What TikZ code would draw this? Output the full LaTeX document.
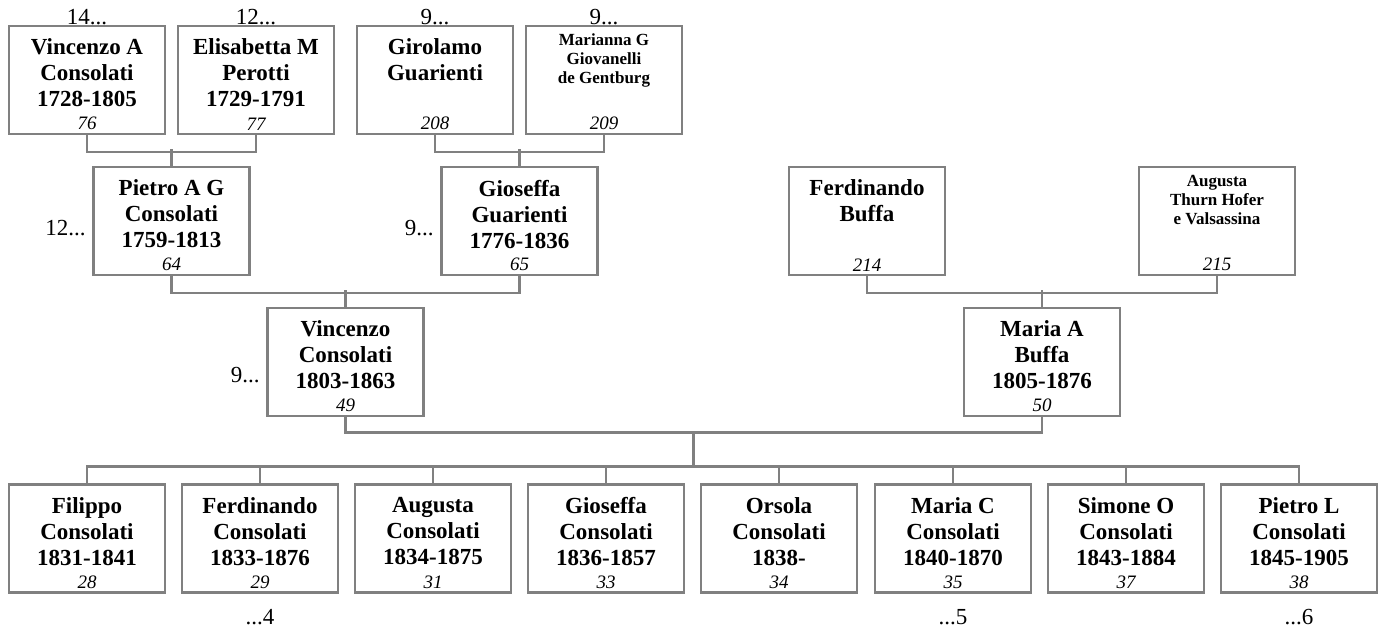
\documentclass[tikz,border=0pt]{standalone}
\usepackage{fontspec}
\setmainfont{Liberation Serif}
\usepackage{xcolor}
\definecolor{grigio}{RGB}{128,128,128}
\usepackage{tikz}
\usetikzlibrary{positioning}
\tikzstyle{riquadro} = [rectangle, draw=grigio, line width=1.4pt, minimum width=78pt, minimum height=54pt, inner sep=0pt]
\tikzstyle{nome} = [align=center, inner sep=0pt, font=\bfseries\fontsize{11.5}{13}\selectfont]
\tikzstyle{nomepiccolo} = [align=center, inner sep=0pt, font=\bfseries\fontsize{8.5}{9.5}\selectfont]
\tikzstyle{numero} = [inner sep=0pt, font=\itshape\fontsize{9.5}{11}\selectfont]
\tikzstyle{continua} = [inner sep=0pt, font=\fontsize{11.5}{13}\selectfont]
\tikzstyle{linea} = [draw=grigio, line width=1.4pt]

\begin{document}
\begin{tikzpicture}[x=0.5pt, y=-0.5pt]

    \useasboundingbox (0,0) rectangle (1383,628);

    % bisnonni
    \node (vincenzoA) [riquadro] at (87,80) {};
    \node (vincenzoAnome) [nome, below=7pt of vincenzoA.north] {Vincenzo A\\Consolati\\1728-1805};
    \node (vincenzoAnum) [numero, above=2.5pt of vincenzoA.south] {76};

    \node (elisabettaM) [riquadro] at (256,80) {};
    \node (elisabettaMnome) [nome, below=7pt of elisabettaM.north] {Elisabetta M\\Perotti\\1729-1791};
    \node (elisabettaMnum) [numero, above=2.5pt of elisabettaM.south] {77};

    \node (girolamoG) [riquadro] at (435,80) {};
    \node (girolamoGnome) [nome, below=7pt of girolamoG.north] {Girolamo\\Guarienti};
    \node (girolamoGnum) [numero, above=2.5pt of girolamoG.south] {208};

    \node (mariannaG) [riquadro] at (604,80) {};
    \node (mariannaGnome) [nomepiccolo, below=4.5pt of mariannaG.north] {Marianna G\\Giovanelli\\de Gentburg};
    \node (mariannaGnum) [numero, above=2.5pt of mariannaG.south] {209};

    % nonni
    \node (pietroAG) [riquadro] at (171.5,221) {};
    \node (pietroAGnome) [nome, below=7pt of pietroAG.north] {Pietro A G\\Consolati\\1759-1813};
    \node (pietroAGnum) [numero, above=2.5pt of pietroAG.south] {64};

    \node (gioseffaG) [riquadro] at (519.5,221) {};
    \node (gioseffaGnome) [nome, below=7pt of gioseffaG.north] {Gioseffa\\Guarienti\\1776-1836};
    \node (gioseffaGnum) [numero, above=2.5pt of gioseffaG.south] {65};

    \node (ferdinandoB) [riquadro] at (867,221) {};
    \node (ferdinandoBnome) [nome, below=7pt of ferdinandoB.north] {Ferdinando\\Buffa};
    \node (ferdinandoBnum) [numero, above=2.5pt of ferdinandoB.south] {214};

    \node (augustaT) [riquadro] at (1217,221) {};
    \node (augustaTnome) [nomepiccolo, below=4.5pt of augustaT.north] {Augusta\\Thurn Hofer\\e Valsassina};
    \node (augustaTnum) [numero, above=2.5pt of augustaT.south] {215};

    % genitori
    \node (vincenzoC) [riquadro] at (345.5,362) {};
    \node (vincenzoCnome) [nome, below=7pt of vincenzoC.north] {Vincenzo\\Consolati\\1803-1863};
    \node (vincenzoCnum) [numero, above=2.5pt of vincenzoC.south] {49};

    \node (mariaA) [riquadro] at (1042,362) {};
    \node (mariaAnome) [nome, below=7pt of mariaA.north] {Maria A\\Buffa\\1805-1876};
    \node (mariaAnum) [numero, above=2.5pt of mariaA.south] {50};

    % figli
    \node (filippo) [riquadro] at (87,538.5) {};
    \node (filipponome) [nome, below=7pt of filippo.north] {Filippo\\Consolati\\1831-1841};
    \node (filipponum) [numero, above=2.5pt of filippo.south] {28};

    \node (ferdinandoC) [riquadro] at (260,538.5) {};
    \node (ferdinandoCnome) [nome, below=7pt of ferdinandoC.north] {Ferdinando\\Consolati\\1833-1876};
    \node (ferdinandoCnum) [numero, above=2.5pt of ferdinandoC.south] {29};

    \node (augustaC) [riquadro] at (433,538.5) {};
    \node (augustaCnome) [nome, below=7pt of augustaC.north] {Augusta\\Consolati\\1834-1875};
    \node (augustaCnum) [numero, above=2.5pt of augustaC.south] {31};

    \node (gioseffaC) [riquadro] at (606,538.5) {};
    \node (gioseffaCnome) [nome, below=7pt of gioseffaC.north] {Gioseffa\\Consolati\\1836-1857};
    \node (gioseffaCnum) [numero, above=2.5pt of gioseffaC.south] {33};

    \node (orsolaC) [riquadro] at (779,538.5) {};
    \node (orsolaCnome) [nome, below=7pt of orsolaC.north] {Orsola\\Consolati\\1838-};
    \node (orsolaCnum) [numero, above=2.5pt of orsolaC.south] {34};

    \node (mariaC) [riquadro] at (953,538.5) {};
    \node (mariaCnome) [nome, below=7pt of mariaC.north] {Maria C\\Consolati\\1840-1870};
    \node (mariaCnum) [numero, above=2.5pt of mariaC.south] {35};

    \node (simoneO) [riquadro] at (1126,538.5) {};
    \node (simoneOnome) [nome, below=7pt of simoneO.north] {Simone O\\Consolati\\1843-1884};
    \node (simoneOnum) [numero, above=2.5pt of simoneO.south] {37};

    \node (pietroL) [riquadro] at (1299,538.5) {};
    \node (pietroLnome) [nome, below=7pt of pietroL.north] {Pietro L\\Consolati\\1845-1905};
    \node (pietroLnum) [numero, above=2.5pt of pietroL.south] {38};

    % rimandi
    \node (vincenzoAcont) [continua, anchor=base] at (vincenzoA.north) {14...};
    \node (elisabettaMcont) [continua, anchor=base] at (elisabettaM.north) {12...};
    \node (girolamoGcont) [continua, anchor=base] at (girolamoG.north) {9...};
    \node (mariannaGcont) [continua, anchor=base] at (mariannaG.north) {9...};
    \node (pietroAGcont) [continua, left=3pt of pietroAG.west, yshift=-3.5pt] {12...};
    \node (gioseffaGcont) [continua, left=3pt of gioseffaG.west, yshift=-3.5pt] {9...};
    \node (vincenzoCcont) [continua, left=3pt of vincenzoC.west, yshift=-6.5pt] {9...};
    \node (ferdinandoCcont) [continua, below=7.5pt of ferdinandoC.south] {...4};
    \node (mariaCcont) [continua, below=7.5pt of mariaC.south] {...5};
    \node (pietroLcont) [continua, below=7.5pt of pietroL.south] {...6};

    \coordinate (nozze) at (693.75,432.5);
    \coordinate (sbarra) at (693.75,468);

    \draw[linea] (vincenzoA.south) -- ++(0,16.5) -| (elisabettaM.south);
    \draw[linea] (pietroAG.north) -- ++(0,-16.5);
    \draw[linea] (girolamoG.south) -- ++(0,16.5) -| (mariannaG.south);
    \draw[linea] (gioseffaG.north) -- ++(0,-16.5);
    \draw[linea] (pietroAG.south) -- ++(0,16.5) -| (gioseffaG.south);
    \draw[linea] (vincenzoC.north) -- ++(0,-16.5);
    \draw[linea] (ferdinandoB.south) -- ++(0,16.5) -| (augustaT.south);
    \draw[linea] (mariaA.north) -- ++(0,-16.5);
    \draw[linea] (vincenzoC.south) |- (nozze) -| (mariaA.south);
    \draw[linea] (nozze) -- (sbarra);
    \draw[linea] (filippo.north) -- ++(0,-16.5) -| (pietroL.north);
    \draw[linea] (ferdinandoC.north) -- ++(0,-16.5);
    \draw[linea] (augustaC.north) -- ++(0,-16.5);
    \draw[linea] (gioseffaC.north) -- ++(0,-16.5);
    \draw[linea] (orsolaC.north) -- ++(0,-16.5);
    \draw[linea] (mariaC.north) -- ++(0,-16.5);
    \draw[linea] (simoneO.north) -- ++(0,-16.5);

\end{tikzpicture}
\end{document}
